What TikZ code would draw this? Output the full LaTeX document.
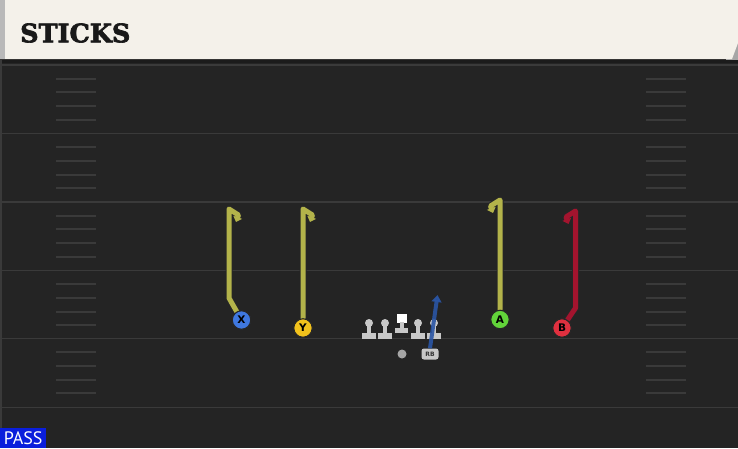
\documentclass[tikz,border=0pt]{standalone}
\usepackage{fontspec}
\setmainfont{DejaVu Sans}
\newfontfamily\titlefont[FakeBold=2.6]{DejaVu Serif Bold}
\newfontfamily\passfont{PT Sans}
\usetikzlibrary{arrows.meta}
\definecolor{field}{HTML}{242424}
\definecolor{yardline}{HTML}{3A3A3A}
\definecolor{hashc}{HTML}{3A3A3A}
\definecolor{cream}{HTML}{F4F1EA}
\definecolor{olive}{HTML}{B3B34A}
\definecolor{routered}{HTML}{A3142E}
\definecolor{routeblue}{HTML}{2A55A5}
\definecolor{xblue}{HTML}{3F78E0}
\definecolor{yyellow}{HTML}{F2C21C}
\definecolor{agreen}{HTML}{62D43A}
\definecolor{bred}{HTML}{E0303F}
\definecolor{linegrey}{HTML}{C8C8C8}
\definecolor{passblue}{HTML}{0A1EDC}
\tikzset{
  x=1pt, y=-1pt,
  player/.style={circle, draw=black!85, line width=1.1pt, minimum size=18.5pt, inner sep=0pt, font=\bfseries\fontsize{10.5}{10.5}\selectfont, text=black},
  routeout/.style={draw=black!85, line width=7pt, line join=round, line cap=round},
  routein/.style={line width=5pt, line join=round, line cap=round},
  hashmark/.style={draw=hashc, line width=1.5pt},
  yardln/.style={draw=yardline, line width=1.8pt},
  lineman/.style={fill=linegrey}
}
\begin{document}
\begin{tikzpicture}
\useasboundingbox (0,0) rectangle (738,448);
\fill[field] (0,0) rectangle (738,448);
\fill[black!25!field] (0,59) rectangle (738,63);
\fill[yardline] (0,60) rectangle (2,448);
% yard lines
\foreach \yy in {65,133.5,202,270.5,338.5,407.5}
  \draw[yardln] (0,\yy) -- (738,\yy);
% hash marks
\foreach \yy in {65,133.5,202,270.5,338.5}
  \foreach \k in {1,2,3,4}
  {
    \pgfmathsetmacro{\hy}{round(\yy+13.7*\k)}
    \draw[hashmark] (56,\hy) -- (96,\hy);
    \draw[hashmark] (646,\hy) -- (686,\hy);
  }
% header
\fill[gray!70] (726,40) rectangle (738,60);
\fill[cream] (0,0) -- (738,0) -- (738,43) -- (732,59) -- (0,59) -- cycle;
\fill[gray!55] (0,0) rectangle (5,59);
\node[anchor=west, font=\titlefont\fontsize{25.5}{25.5}\selectfont, text=black!90, inner sep=0pt] (title) at (20,33) {STICKS};

% players
\node[player, fill=xblue] (x) at (241.5,320) {X};
\node[player, fill=yyellow] (y) at (303,328) {Y};
\node[player, fill=agreen] (a) at (500,319.5) {A};
\node[player, fill=bred] (b) at (562,328) {B};

% route points
\coordinate (x1) at (229,298);
\coordinate (x2) at (229,209);
\coordinate (x3) at (238.5,215);
\coordinate (x4) at (236,222);
\coordinate (y2) at (303,209);
\coordinate (y3) at (312.5,215);
\coordinate (y4) at (310,222);
\coordinate (a2) at (500,200);
\coordinate (a3) at (490.5,206);
\coordinate (a4) at (493,213);
\coordinate (b1) at (575.5,308);
\coordinate (b2) at (575.5,211);
\coordinate (b3) at (566,217);
\coordinate (b4) at (568.5,224);

% routes (outline then colour)
\draw[routeout, -{Triangle[length=6pt,width=11pt]}] (x) -- (x1) -- (x2) -- (x3) -- (x4);
\draw[routein, draw=olive, -{Triangle[length=5pt,width=9pt]}] (x) -- (x1) -- (x2) -- (x3) -- (x4);
\draw[routeout, -{Triangle[length=6pt,width=11pt]}] (y) -- (y2) -- (y3) -- (y4);
\draw[routein, draw=olive, -{Triangle[length=5pt,width=9pt]}] (y) -- (y2) -- (y3) -- (y4);
\draw[routeout, -{Triangle[length=6pt,width=11pt]}] (a) -- (a2) -- (a3) -- (a4);
\draw[routein, draw=olive, -{Triangle[length=5pt,width=9pt]}] (a) -- (a2) -- (a3) -- (a4);
\draw[routeout, -{Triangle[length=6pt,width=11pt]}] (b) -- (b1) -- (b2) -- (b3) -- (b4);
\draw[routein, draw=routered, -{Triangle[length=5pt,width=9pt]}] (b) -- (b1) -- (b2) -- (b3) -- (b4);

% redraw players on top
\node[player, fill=xblue] at (x) {X};
\node[player, fill=yyellow] at (y) {Y};
\node[player, fill=agreen] at (a) {A};
\node[player, fill=bred] at (b) {B};

% offensive line
\foreach \lx in {369,385,418,434}
{
  \fill[lineman] (\lx,323) circle (4);
  \fill[lineman] (\lx-2,323) rectangle (\lx+2,334);
  \fill[lineman] (\lx-7,333) rectangle (\lx+7,338.5);
}
\fill[white] (397,313.5) rectangle (406.5,322.5);
\fill[lineman] (400,322) rectangle (403.5,329);
\fill[lineman] (395,328) rectangle (408,332.5);

% QB and RB
\node[circle, fill=gray!70, inner sep=0pt, minimum size=9pt] (qb) at (402,354) {};
\node[fill=linegrey, rounded corners=2.5pt, inner sep=0pt, minimum width=17pt, minimum height=11pt, font=\bfseries\fontsize{6}{6}\selectfont, text=black!80] (rb) at (430,354) {RB};
\coordinate (rbend) at (437.5,295);
\draw[line width=4pt, draw=routeblue, opacity=0.9, -{Triangle[length=7pt,width=10pt]}] (rb.north) -- (rbend);

% PASS label
\node[fill=passblue, anchor=south west, minimum width=46pt, minimum height=20pt, inner sep=0pt, text=white, font=\passfont\fontsize{18}{18}\selectfont] (pass) at (0,448) {PASS};
\end{tikzpicture}
\end{document}
